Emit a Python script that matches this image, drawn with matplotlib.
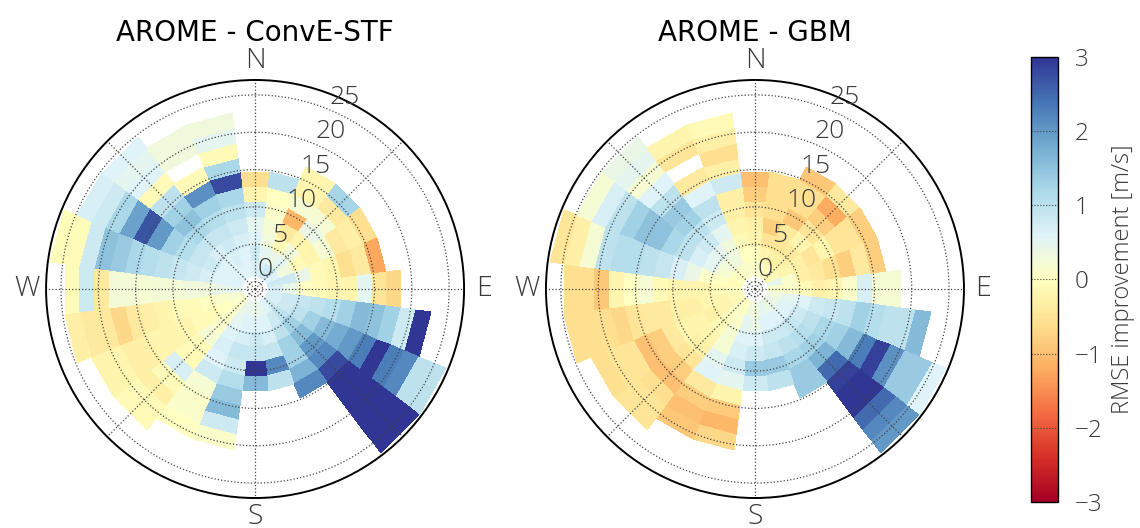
import matplotlib
matplotlib.use('Agg')
import matplotlib.pyplot as plt
import numpy as np

nan = np.nan

# wind direction sectors (deg, clockwise from N) and wind speed bin edges (m/s)
sectors = [0, 15, 30, 45, 60, 75, 90, 105, 120, 135, 150, 165,
           180, 195, 210, 225, 240, 255, 270, 285, 300, 315, 330, 345]
speed_edges = [0.75, 2.75, 4.75, 6.75, 8.75, 10.75, 12.75, 14.75,
               16.75, 18.75, 20.75, 22.75, 24.75, 26.75]

# RMSE improvement per sector, from the lowest speed bin outwards
conve_stf = [
    [0.7, 0.8, 0.6, 0.5, 0.8, -0.2, -0.6],
    [0.7, 0.5, 0.3, 0.2, 0.1, 0.0, 1.0],
    [0.8, 0.4, -0.1, -0.4, -1.1, 0.2, -0.2, -0.2],
    [0.8, 0.5, 0.3, -0.2, 0.4, 0.2, -0.4, 1.25],
    [0.6, 0.3, -0.1, -0.2, 0.2, -0.4, -0.3, -0.6],
    [0.8, 0.8, 0.4, -0.1, -0.2, -0.6, -0.4, -1.25],
    [0.7, 0.4, 0.0, -0.1, -0.2, -0.2, 0.5, -0.5, -0.7],
    [0.7, 0.8, 0.9, 1.0, 1.1, 1.3, 1.6, 1.5, 1.3, 0.8, 3.0],
    [0.7, 0.8, 1.0, 1.3, 1.6, 1.8, 2.0, 2.3, 3.0, 2.3, 2.2, 1.0, 1.0],
    [0.8, 1.0, 1.3, 1.6, 2.0, 2.2, 2.8, 3.0, 3.0, 3.0, 3.0, 3.0, 3.0],
    [0.6, 0.8, 1.0, 1.3, 1.3, 1.7, 2.2],
    [0.5, 0.6, 0.7, 0.9, 2.2, 1.0],
    [0.4, 0.6, 0.8, 0.9, 3.0, 1.6],
    [0.5, 0.6, 0.7, 0.9, 0.8, 1.1, 1.4, 1.6, 0.8, 0.1],
    [0.4, 0.5, 0.6, 0.7, 0.6, 0.8, 0.2, 0.1, 0.1, 0.0],
    [0.1, 0.1, 0.1, 0.2, -0.1, -0.1, 0.7, -0.1, -0.3, -0.1, -0.1],
    [0.1, 0.0, -0.1, -0.1, -0.2, -0.2, -0.2, -0.3, -0.3, -0.2, -0.2],
    [0.2, 0.1, 0.0, -0.1, -0.1, -0.2, -0.3, -0.4, -0.7, -0.4, -0.4, -0.3],
    [0.5, 0.4, 0.3, 0.3, 0.25, 0.25, 0.2, 0.25, 0.25, -0.4, 0.8, -0.05],
    [0.6, 0.6, 0.7, 0.8, 0.9, 1.0, 1.1, 1.2, 1.4, 1.5, 0.8, -0.05, -0.05],
    [0.6, 0.6, 0.8, 0.9, 1.1, 1.3, 2.0, 2.7, 1.9, 1.2, 0.8, 0.7],
    [0.6, 0.6, 0.7, 0.9, 1.2, 1.5, 1.3, 1.0, -0.1, 0.6, 0.5, 0.6],
    [0.6, 0.7, 0.8, 0.9, 1.1, 1.3, 2.1, -0.1, nan, 0.3, 0.3],
    [0.6, 0.6, 0.7, 0.8, 1.0, 1.2, 2.8, 1.2, -0.1, 0.5, 0.3],
]

gbm = [
    [0.1, 0.0, -0.2, -0.3, -0.5, -0.8, -1.0],
    [0.1, -0.2, -0.5, -0.8, -0.6, -0.6, -0.6],
    [-0.1, -0.3, -0.5, -0.4, -0.9, -0.6, -0.6, -0.9],
    [-0.1, -0.3, -0.4, -0.2, -0.5, -0.8, -1.2, -0.4],
    [-0.1, -0.2, -0.3, -0.5, -0.2, -0.5, -0.5, -0.8],
    [0.5, 0.1, -0.3, -0.4, -0.6, -0.8, -0.4, -0.8],
    [0.1, 0.1, -0.1, -0.3, -0.2, 0.1, 0.7, 0.2, 0.2],
    [0.3, 0.5, 0.6, 0.8, 0.9, 1.0, 1.3, 1.1, 1.0, 1.0, 1.6],
    [0.4, 0.6, 0.8, 1.0, 1.2, 1.3, 1.6, 2.3, 2.9, 2.1, 1.4, 1.4, 0.6],
    [0.4, 0.6, 0.9, 1.1, 1.3, 1.7, 2.5, 2.9, 3.0, 3.0, 2.5, 2.2, 2.0],
    [0.4, 0.6, 0.8, 1.0, 1.2, 1.4, 1.4],
    [0.5, 0.6, 0.8, 0.9, 1.4, 1.0],
    [0.3, 0.4, 0.6, 0.8, 1.4, 0.8],
    [0.3, 0.5, 0.6, 0.7, 0.8, 0.5, -0.2, -0.85, -1.1, -0.7],
    [0.0, 0.1, 0.2, 0.2, 0.5, 0.6, -0.4, -0.8, -1.0, -0.9],
    [0.1, 0.0, -0.1, -0.2, -0.3, -0.5, -0.8, -1.0, -0.6, -0.5, -0.5],
    [-0.1, -0.2, -0.3, -0.2, -0.2, -0.4, -0.8, -1.0, -0.5, -0.5, -0.6],
    [-0.1, -0.2, -0.2, -0.3, -0.3, -0.4, -0.4, -0.5, -0.7, -0.6, -0.6, -0.6],
    [0.0, -0.1, -0.2, -0.2, -0.2, -0.1, 0.2, 0.0, -0.2, -0.9, -0.6, -0.6],
    [-0.1, 0.0, 0.1, 0.4, 0.7, 0.9, 1.0, 1.1, 1.1, 1.0, 0.2, -0.3, -0.5],
    [0.0, 0.2, 0.5, 0.7, 1.0, 1.2, 1.5, 1.5, 1.3, 1.0, 0.7, 0.2],
    [0.0, 0.3, 0.5, 0.8, 1.0, 1.3, 1.4, 1.0, 0.6, 0.2, 0.5, 0.4],
    [0.1, 0.3, 0.3, 0.5, 0.8, 1.0, 0.6, -0.4, nan, -0.5, -0.2],
    [0.1, 0.0, -0.1, -0.2, -0.3, -0.3, 0.8, -0.3, -0.6, -0.3, -0.1],
]

titles = ['AROME - ConvE-STF', 'AROME - GBM']
r_ticks = [0, 5, 10, 15, 20, 25]
cbar_ticks = [-3, -2, -1, 0, 1, 2, 3]

plt.rcParams['font.family'] = ['Open Sans', 'DejaVu Sans']
txt = '#3a3a3a'

fig = plt.figure(figsize=(11.4, 5.28), dpi=100)


def rose(ax, values, title):
    grid = np.full((len(speed_edges) - 1, len(sectors)), nan)
    for j, row in enumerate(values):
        grid[:len(row), j] = row
    th = np.deg2rad(np.append(np.array(sectors) - 7.5, sectors[-1] + 7.5))
    m = ax.pcolormesh(th, speed_edges, np.ma.masked_invalid(grid),
                      cmap='RdYlBu', vmin=-3, vmax=3)
    ax.set_theta_zero_location('N')
    ax.set_theta_direction(-1)
    ax.set_rlim(-1, 27)
    ax.set_rticks(r_ticks)
    ax.set_rlabel_position(22.5)
    ax.set_thetagrids(range(0, 360, 45), ['N', '', 'E', '', 'S', '', 'W', ''])
    ax.set_axisbelow(False)
    ax.grid(True, linestyle=':', color='#444444', linewidth=0.9)
    ax.tick_params(axis='x', labelsize=20.5, labelcolor=txt, pad=3.5)
    ax.tick_params(axis='y', labelsize=19, labelcolor=txt)
    for lab in ax.get_xticklabels() + ax.get_yticklabels():
        lab.set_fontweight('light')
    ax.spines['polar'].set_linewidth(1.4)
    ax.set_title(title, fontsize=20, pad=4, family='DejaVu Sans')
    return m


ax1 = fig.add_axes([0.0404, 0.0568, 0.3667, 0.7917], projection='polar')
ax2 = fig.add_axes([0.4789, 0.0568, 0.3667, 0.7917], projection='polar')
mesh = rose(ax1, conve_stf, titles[0])
rose(ax2, gbm, titles[1])

cax = fig.add_axes([0.9044, 0.0498, 0.0237, 0.8417])
cb = fig.colorbar(mesh, cax=cax, ticks=cbar_ticks)
for v in cbar_ticks[1:-1]:
    cax.axhline(v, linestyle=':', color='#444444', linewidth=0.8)
cb.outline.set_linewidth(1.0)
cax.tick_params(length=0, labelsize=17.5, labelcolor=txt, pad=12)
for lab in cax.get_yticklabels():
    lab.set_fontweight('light')
cb.set_label('RMSE improvement [m/s]', fontsize=17, color=txt,
             fontweight='light', labelpad=6)

fig.savefig('out.png', dpi=100)
